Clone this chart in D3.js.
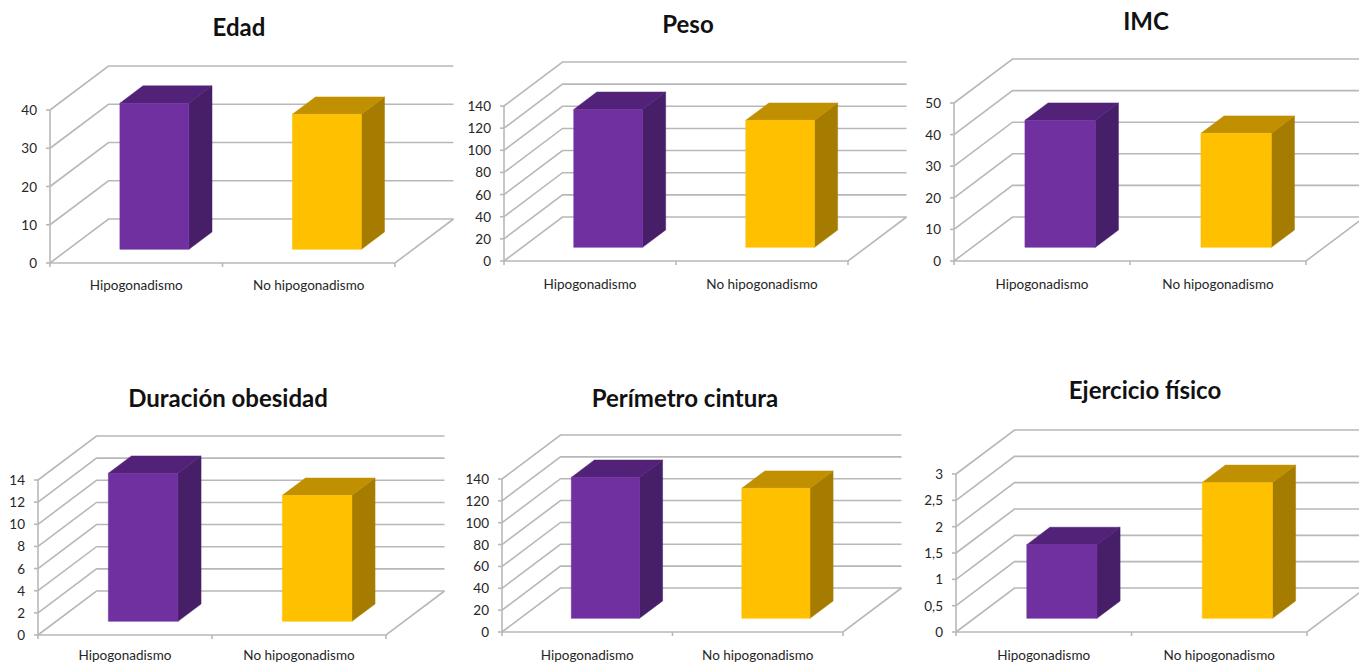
<!DOCTYPE html>
<html lang="es">
<head>
<meta charset="utf-8">
<title>Hipogonadismo</title>
<script src="https://cdn.jsdelivr.net/npm/d3@7/dist/d3.min.js"></script>
<style>
  html, body { margin: 0; padding: 0; background: #fff; overflow: hidden; }
  svg { display: block; }
  text { font-family: Lato, "Open Sans", sans-serif; fill: #1f1f1f; }
  .title { font-size: 24px; font-weight: 700; fill: #111; text-anchor: middle; }
  .tick-label { font-size: 13.5px; text-anchor: end; fill: #262626; }
  .cat-label { font-size: 13.5px; text-anchor: middle; fill: #262626; }
  .grid { stroke: #b8b8b8; stroke-width: 1.6; fill: none; }
</style>
</head>
<body>
<svg id="chart" width="1359" height="664"></svg>
<script>
// Values for each small chart
const categories = ["Hipogonadismo", "No hipogonadismo"];
const titles = ["Edad", "Peso", "IMC", "Duración obesidad", "Perímetro cintura", "Ejercicio físico"];
const edad = [38.2, 35.3];
const peso = [124.6, 114.7];
const imc = [40.2, 36.1];
const duracion = [13.37, 11.38];
const cintura = [129, 119];
const ejercicio = [1.4, 2.58];
const seriesValues = [edad, peso, imc, duracion, cintura, ejercicio];
const axisTicks = [
  [0, 10, 20, 30, 40],
  [0, 20, 40, 60, 80, 100, 120, 140],
  [0, 10, 20, 30, 40, 50],
  [0, 2, 4, 6, 8, 10, 12, 14],
  [0, 20, 40, 60, 80, 100, 120, 140],
  [0, 0.5, 1, 1.5, 2, 2.5, 3]
];

// Placement of each small chart on the page
const frames = [
  { left: 50,  right: 395, bottom: 263, top: 110, titleX: 239,  titleY: 36,  catY: 290 },
  { left: 504, right: 848, bottom: 261, top: 106, titleX: 688,  titleY: 33,  catY: 289 },
  { left: 954, right: 1306, bottom: 261, top: 103, titleX: 1146, titleY: 30,  catY: 289 },
  { left: 38,  right: 386, bottom: 635, top: 480, titleX: 228,  titleY: 407, catY: 660 },
  { left: 502, right: 843, bottom: 632, top: 479, titleX: 685,  titleY: 407, catY: 660 },
  { left: 956, right: 1307, bottom: 632, top: 474, titleX: 1145, titleY: 399, catY: 660 }
];

// Oblique projection shared by all the charts
const wallDepth = { x: 58.5, y: -44 };
const barFrontDepth = 0.31;
const barBackDepth = 0.705;

const faceColors = [
  { front: "#7030a0", top: "#512277", side: "#471f69" },
  { front: "#ffc000", top: "#c09000", side: "#a67c00" }
];

const svg = d3.select("#chart");

seriesValues.forEach((values, i) => {
  const f = frames[i];
  const ticks = axisTicks[i];
  const g = svg.append("g");

  const x = d3.scaleBand().domain(categories).range([f.left, f.right])
    .paddingInner(0.6).paddingOuter(0.3);
  const xCenter = d3.scaleBand().domain(categories).range([f.left, f.right]);
  const y = d3.scaleLinear().domain([0, d3.max(ticks)]).range([f.bottom, f.top]);
  const fmt = v => String(v).replace(".", ",");
  const line = d3.line();
  const shift = (p, d) => [p[0] + wallDepth.x * d, p[1] + wallDepth.y * d];

  // Back wall lines and the diagonals on the side wall
  ticks.forEach(t => {
    g.append("path").attr("class", "grid")
      .attr("d", line([[f.left, y(t)], shift([f.left, y(t)], 1), [f.right + wallDepth.x, y(t) + wallDepth.y]]));
  });

  // Floor edges and the left axis
  g.append("path").attr("class", "grid").attr("d", line([[f.left, f.bottom], [f.right, f.bottom], shift([f.right, f.bottom], 1)]));
  g.append("path").attr("class", "grid").attr("d", line([[f.left, y(d3.max(ticks))], [f.left, f.bottom]]));

  // Tick marks and labels on the value axis
  ticks.forEach(t => {
    g.append("path").attr("class", "grid").attr("d", line([[f.left - 4, y(t)], [f.left, y(t)]]));
    g.append("text").attr("class", "tick-label").attr("x", f.left - 13).attr("y", y(t) + 5).text(fmt(t));
  });

  // Tick marks under the categories
  [f.left, (f.left + f.right) / 2, f.right].forEach(px => {
    g.append("path").attr("class", "grid").attr("d", line([[px, f.bottom], [px, f.bottom + 4]]));
  });

  // Three visible faces of each bar
  categories.forEach((c, j) => {
    const v = values[j];
    const colors = faceColors[j];
    const x0 = x(c), x1 = x0 + x.bandwidth();
    const yBase = y(0), yTop = y(v);
    const fr = p => shift(p, barFrontDepth);
    const bk = p => shift(p, barBackDepth);
    const poly = (pts, fill) => g.append("path")
      .attr("d", line(pts) + "Z").attr("fill", fill).attr("stroke", fill).attr("stroke-width", 0.5);

    poly([fr([x1, yBase]), bk([x1, yBase]), bk([x1, yTop]), fr([x1, yTop])], colors.side);
    poly([fr([x0, yTop]), fr([x1, yTop]), bk([x1, yTop]), bk([x0, yTop])], colors.top);
    poly([fr([x0, yBase]), fr([x1, yBase]), fr([x1, yTop]), fr([x0, yTop])], colors.front);

    g.append("text").attr("class", "cat-label")
      .attr("x", xCenter(c) + xCenter.bandwidth() / 2).attr("y", f.catY).text(c);
  });

  g.append("text").attr("class", "title").attr("x", f.titleX).attr("y", f.titleY).text(titles[i]);
});
</script>
</body>
</html>
